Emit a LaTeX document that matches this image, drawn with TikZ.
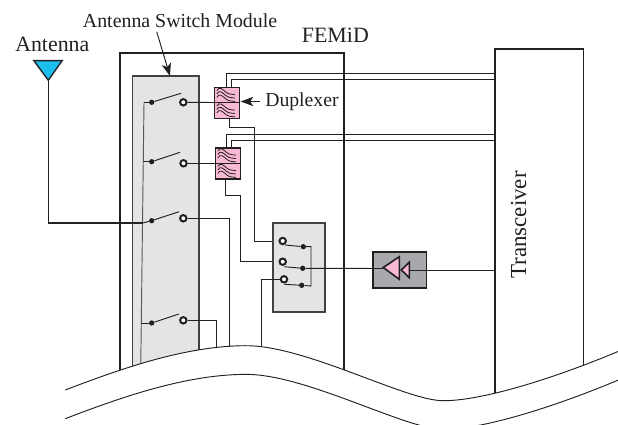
\documentclass[tikz,border=0pt]{standalone}
\usepackage{fontspec}
\setmainfont{Liberation Serif}
\usetikzlibrary{arrows.meta,calc}
\definecolor{panel}{HTML}{E3E4E6}
\definecolor{pagray}{HTML}{A7A9AC}
\definecolor{pinkf}{HTML}{F9B9D4}
\definecolor{cyanf}{HTML}{1CBEEE}
\definecolor{ink}{HTML}{231F20}
\tikzset{
  wire/.style={draw=ink,line width=0.7pt},
  heavy/.style={draw=ink,line width=1.3pt},
  panelbox/.style={draw=ink!85,line width=1.2pt,fill=panel},
  wave/.style={draw=ink,line width=0.7pt},
  label/.style={inner sep=0pt,text=ink},
  ring/.style={circle,draw=ink,line width=1.5pt,fill=white,minimum size=4.8pt,inner sep=0pt},
  pivot/.style={circle,fill=ink,minimum size=4pt,inner sep=0pt},
  dup/.style={draw=ink,line width=0.9pt,fill=pinkf},
  lead/.style={draw=ink,line width=0.7pt,-{Stealth[length=9.5pt,width=7pt,inset=2.5pt]}},
  textbig/.style={font=\fontsize{16.4}{19}\selectfont},
  textmid/.style={font=\fontsize{14.9}{18}\selectfont},
  textdup/.style={font=\fontsize{14.8}{18}\selectfont},
  texttr/.style={font=\fontsize{17.2}{20}\selectfont},
}
\newcommand{\waves}[2]{%
  \foreach \dy in {-3.4,0,3.4}{
    \draw[draw=ink,line width=0.6pt] ($(#1,#2)+(-10,\dy-1)$) .. controls ++(2.5,-5) and ++(-3,-2.5) .. ++(9,1.5) .. controls ++(3,2.5) and ++(-3,-0.5) .. ++(9,2.5);
  }}
\newcommand{\wavecurve}{(65.3,390) .. controls (120,369) and (185,346) .. (245,345.7) .. controls (305,345) and (405,400.5) .. (443,400.7) .. controls (480,401) and (550,380) .. (618,351.5)}
\begin{document}
\begin{tikzpicture}[x=0.75pt,y=-0.75pt]
\useasboundingbox (0,0) rectangle (618,425);
\clip (0,0) rectangle (618,425);
\begin{scope}
\clip \wavecurve -- (618,0) -- (0,0) -- (0,425) -- cycle;
% FEMiD & transceiver
\draw[heavy] (120,420) -- (120,53.3) -- (343.7,53.3) -- (343.7,420);
\draw[heavy] (495,420) -- (495,49) -- (583.5,49) -- (583.5,420);
% ASM
\draw[panelbox] (132.3,420) -- (132.3,76) -- (199,76) -- (199,420);
% wires to the cut
\draw[wire,draw=ink!75] (144,102.3) -- (140.7,370);
\coordinate (s1) at (144,102.3);
\coordinate (s2) at (143.3,161.7);
\coordinate (s3) at (142.7,223);
\coordinate (s4) at (141.2,323);
\node[pivot] (d1) at (151.7,102.3) {};
\node[pivot] (d2) at (151.7,161.7) {};
\node[pivot] (d3) at (151.7,220.7) {};
\node[pivot] (d4) at (151.7,323) {};
\draw[wire] (s1) -- (d1); \draw[wire] (s2) -- (d2); \draw[wire] (s3) -- (d3); \draw[wire] (s4) -- (d4);
\coordinate (a1) at (181,93.3);
\coordinate (a2) at (180,152.3);
\coordinate (a3) at (179,211.7);
\coordinate (a4) at (179,314);
\draw[wire] (d1) -- (a1); \draw[wire] (d2) -- (a2); \draw[wire] (d3) -- (a3); \draw[wire] (d4) -- (a4);
\coordinate (dupa) at (214.3,102.5);
\coordinate (dupb) at (215.3,163.3);
\node[ring] (r1) at (183.3,102.3) {};
\node[ring] (r2) at (183.5,163.3) {};
\node[ring] (r3) at (183.3,218.3) {};
\node[ring] (r4) at (183.3,320.3) {};
\draw[wire] (r1) -- (dupa);
\draw[wire] (r2) -- (dupb);
\draw[wire] (r3) -- (229,218.3) -- (229,400);
\draw[wire] (r4) -- (216.7,320.3) -- (216.7,400);
\draw[wire] (226,87.3) -- (226,73.3) -- (495,73.3);
\draw[wire] (231,87.3) -- (231,79.3) -- (495,79.3);
\draw[wire] (226,148) -- (226,134.7) -- (495,134.7);
\draw[wire] (231,148) -- (231,140) -- (495,140);
\draw[wire] (229,118.3) -- (229,127.3) -- (254.7,127.3) -- (254.7,241) -- (282.7,241);
\draw[wire] (225.7,179) -- (225.7,195) -- (240.3,195) -- (240.3,261.5) -- (282.7,261.5);
\draw[dup] (214.3,87.3) rectangle (239.3,118.3);
\draw[dup] (214.3,102.7) -- (239.3,102.7);
\draw[dup] (215.3,148) rectangle (240.3,179);
\draw[dup] (215.3,163.3) -- (240.3,163.3);
\waves{226.8}{95}\waves{226.8}{110.5}\waves{227.8}{155.5}\waves{227.8}{171}
% SP3T
\draw[panelbox] (273,222.7) rectangle (324.7,311.7);
\draw[wire] (261.7,400) -- (261.7,279.3) -- (284,279.3);
\node[ring] (ra) at (282.7,241) {};
\node[ring] (rb) at (282.7,261.7) {};
\node[ring] (rc) at (284,279.3) {};
\node[pivot] (pa) at (303.3,246.7) {};
\node[pivot] (pb) at (302.7,268.3) {};
\node[pivot] (pc) at (301.7,285.3) {};
\coordinate (ua) at (285,245);
\coordinate (ub) at (284.3,266.7);
\coordinate (uc) at (284.3,284.3);
\draw[wire] (ua) -- (pa); \draw[wire] (ub) -- (pb); \draw[wire] (uc) -- (pc);
\draw[wire] (pa) -- (311,246.7) -- (311,286) -- (pc);
\end{scope}
% PA
\node[draw=ink,line width=1.2pt,fill=pagray,minimum width=40pt,minimum height=27pt,inner sep=0pt] (pabox) at (399.85,269.7) {};
\draw[wire] (pb) -- (383.3,268.5);
\draw[draw=ink,line width=1.2pt,fill=pinkf] (383.3,267.5) -- (399.3,256.7) -- (399.3,279.3) -- cycle;
\draw[draw=ink,line width=1.2pt,fill=pinkf] (401.3,270) -- (409.3,262.3) -- (409.3,277.7) -- cycle;
\draw[wire] (409.3,270.7) -- (495,270.7);
% wave
\draw[wave] \wavecurve;
\begin{scope}[yshift=-21.5pt]
\draw[wave] \wavecurve;
\end{scope}
% antenna
\coordinate (anttip) at (48.3,80.3);
\draw[wire,line width=1pt] (anttip) -- (48.3,223) -- (s3);
\draw[draw=ink,line width=1pt,fill=cyanf] (33.8,60.6) -- (62.2,60.6) -- (anttip) -- cycle;
% labels
\node[label,textbig,anchor=base west] (lantenna) at (15,51) {Antenna};
\node[label,textmid,anchor=base west] (lasm) at (82.7,27.7) {Antenna Switch Module};
\node[label,textbig,anchor=base west] (lfem) at (301.7,42.7) {FEMiD};
\node[label,textdup,anchor=base west] (ldup) at (265,106.7) {Duplexer};
\node[label,texttr,rotate=90,anchor=base] (ltr) at (526,225) {Transceiver};
\coordinate (asmtail) at (156.7,31.7);
\coordinate (asmtop) at (170,76);
\coordinate (duptail) at (260,101.5);
\coordinate (dupa2) at (240.7,101.5);
\draw[lead] (asmtail) -- (asmtop);
\draw[lead] (duptail) -- (dupa2);
\end{tikzpicture}
\end{document}
